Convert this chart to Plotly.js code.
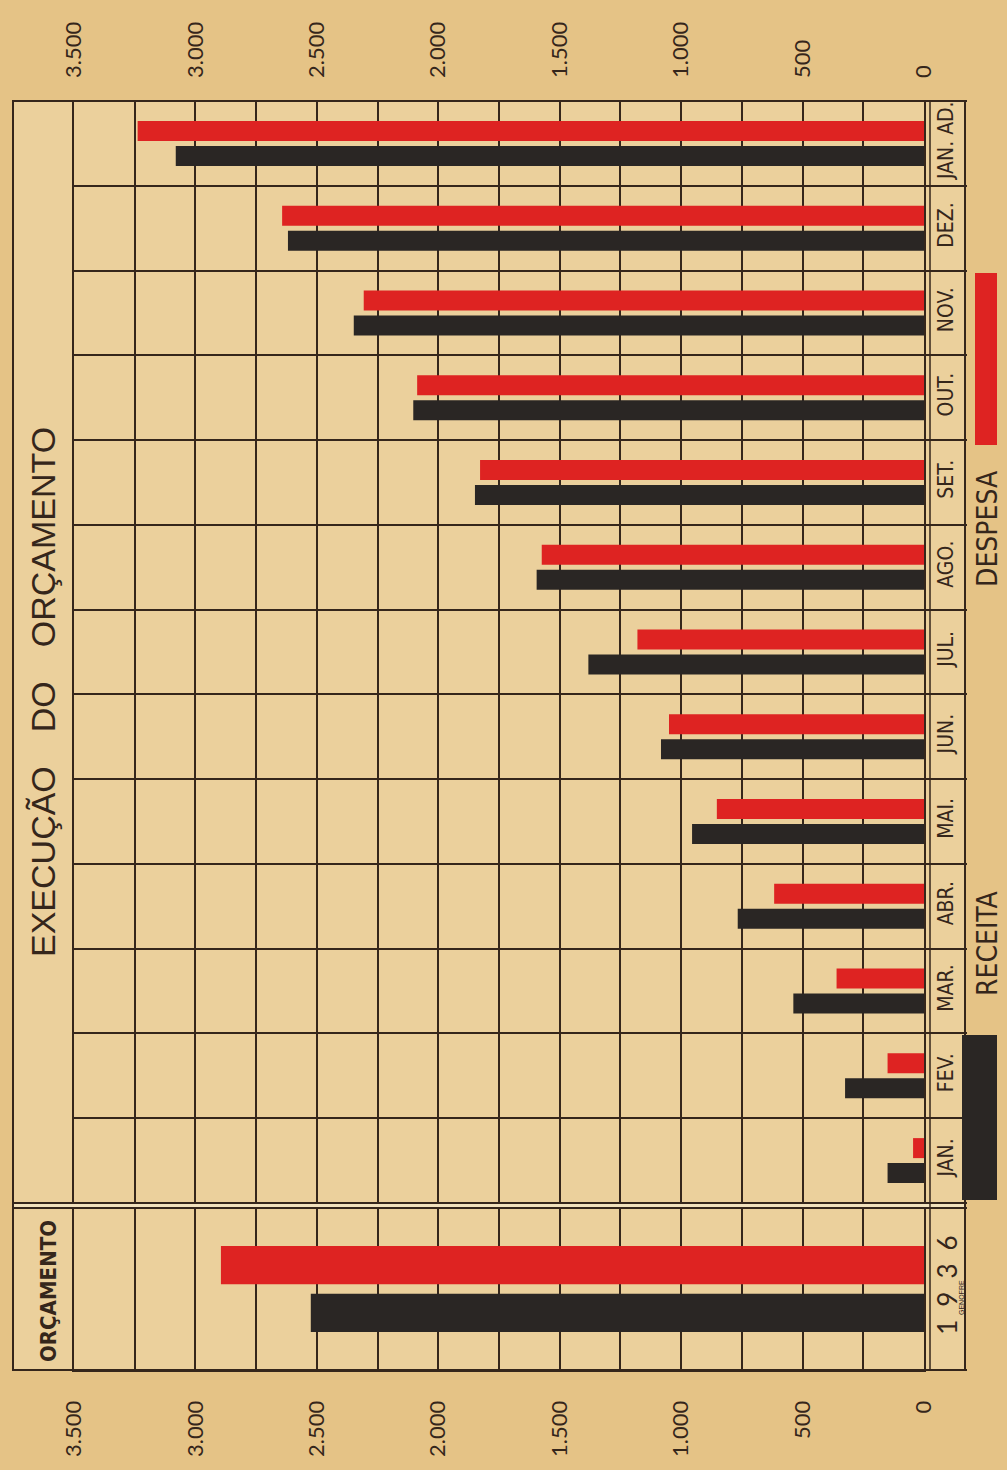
<!DOCTYPE html>
<html>
<head>
<meta charset="utf-8">
<script src="https://cdn.plot.ly/plotly-3.0.1.min.js"></script>
<style>
  html, body { margin: 0; padding: 0; background: #e5c386; }
  #chart { width: 1007px; height: 1470px; }
</style>
</head>
<body>
<div id="chart"></div>
<script>
// ---- data ----
const months = ['JAN.', 'FEV.', 'MAR.', 'ABR.', 'MAI.', 'JUN.', 'JUL.', 'AGO.', 'SET.', 'OUT.', 'NOV.', 'DEZ.', 'JAN. AD.'];
const receita = [150, 325, 538, 767, 955, 1083, 1382, 1595, 1849, 2103, 2348, 2619, 3081];
const despesa = [45, 150, 360, 617, 853, 1050, 1180, 1574, 1828, 2087, 2307, 2643, 3238];
const budgetYear = ['1\u20029\u20023\u20026'];
const budgetReceita = [2525];
const budgetDespesa = [2895];
const seriesNames = ['RECEITA', 'DESPESA'];
const titleText = 'EXECUÇÃO\u2003DO\u2003ORÇAMENTO';
const budgetTitle = 'ORÇAMENTO';
const signature = 'GENOFRE';

// ---- styles ----
const INK = '#35261b';
const RED = '#de2322';
const BLACK = '#2a2624';
const PAPER = '#e5c386';
const PLOTBG = '#ebd09c';
const LABELFONT = '"Liberation Sans Narrow", "DejaVu Sans Condensed", "Liberation Sans", sans-serif';
const NUMFONT = 'Lato, "Liberation Sans", sans-serif';
const GW = 2;

// pixel -> paper helpers (plot area: x 74..924, y 101..1370)
const L = 74, R = 83, T = 101, B = 100, W = 1007, H = 1470;
const PW = W - L - R, PH = H - T - B;
const px = v => (v - L) / PW;
const py = v => (H - B - v) / PH;

const upperDomain = [py(1203), 1];
const lowerDomain = [0, py(1208)];

const traces = [
  { type: 'bar', orientation: 'h', name: seriesNames[0], y: months, x: receita,
    xaxis: 'x', yaxis: 'y', marker: { color: BLACK }, hoverinfo: 'x+y' },
  { type: 'bar', orientation: 'h', name: seriesNames[1], y: months, x: despesa,
    xaxis: 'x', yaxis: 'y', marker: { color: RED }, hoverinfo: 'x+y' },
  { type: 'bar', orientation: 'h', name: seriesNames[0], y: budgetYear, x: budgetReceita,
    xaxis: 'x', yaxis: 'y2', marker: { color: BLACK }, showlegend: false, hoverinfo: 'x+y' },
  { type: 'bar', orientation: 'h', name: seriesNames[1], y: budgetYear, x: budgetDespesa,
    xaxis: 'x', yaxis: 'y2', marker: { color: RED }, showlegend: false, hoverinfo: 'x+y' },
  // invisible carrier so the top value axis is drawn
  { type: 'scatter', mode: 'markers', x: receita, y: months, xaxis: 'x2', yaxis: 'y',
    marker: { opacity: 0 }, showlegend: false, hoverinfo: 'skip' }
];

const valueAxisCommon = {
  range: [3500, 0],
  autorange: false,
  tick0: 0, dtick: 500,
  tickformat: ',d',
  tickangle: -90,
  ticks: '',
  tickfont: { family: NUMFONT, size: 22, color: INK },
  zeroline: false,
  fixedrange: true
};

const layout = {
  width: W, height: H,
  margin: { l: L, r: R, t: T, b: B, pad: 0 },
  paper_bgcolor: PAPER,
  plot_bgcolor: PLOTBG,
  separators: ',.',
  showlegend: false,
  barmode: 'group',
  bargap: 0.41,
  bargroupgap: 0.2,
  xaxis: Object.assign({}, valueAxisCommon, {
    anchor: 'y2', side: 'bottom', domain: [0, 1],
    showgrid: true, gridcolor: INK, gridwidth: GW,
    minor: { dtick: 250, tick0: 0, showgrid: true, gridcolor: INK, gridwidth: GW, ticks: '' },
    showline: true, linecolor: INK, linewidth: GW, mirror: true,
    ticklabelstandoff: 20
  }),
  xaxis2: Object.assign({}, valueAxisCommon, {
    anchor: 'y', side: 'top', overlaying: 'x', domain: [0, 1],
    showgrid: false, showline: false,
    ticklabelstandoff: 22
  }),
  yaxis: {
    domain: upperDomain, anchor: 'x', side: 'right',
    type: 'category', categoryorder: 'array', categoryarray: months,
    range: [-0.5, months.length - 0.5], autorange: false,
    tickson: 'boundaries', ticks: 'outside', ticklen: 41, tickwidth: GW, tickcolor: INK,
    showgrid: true, gridcolor: INK, gridwidth: GW,
    showline: true, linecolor: INK, linewidth: GW, mirror: true,
    tickangle: -90,
    tickfont: { family: LABELFONT, size: 21, color: INK },
    ticklabelstandoff: 2,
    fixedrange: true
  },
  yaxis2: {
    domain: lowerDomain, anchor: 'x', side: 'right',
    type: 'category',
    range: [-0.5, budgetYear.length - 0.5], autorange: false,
    tickson: 'boundaries', ticks: 'outside', ticklen: 41, tickwidth: GW, tickcolor: INK,
    showgrid: false,
    showline: true, linecolor: INK, linewidth: GW, mirror: true,
    tickangle: -90,
    tickfont: { family: NUMFONT, size: 26, color: INK },
    ticklabelstandoff: 0,
    fixedrange: true
  },
  shapes: [
    // outer frame fill
    { type: 'rect', xref: 'paper', yref: 'paper', x0: px(13), x1: px(965), y0: 0, y1: 1,
      fillcolor: PLOTBG, line: { color: INK, width: GW }, layer: 'below' },
    // separator band between the two sections
    { type: 'rect', xref: 'paper', yref: 'paper', x0: px(13), x1: px(965), y0: lowerDomain[1], y1: upperDomain[0],
      fillcolor: '#f2e2bd', line: { color: INK, width: GW }, layer: 'above' },
    // double line beside the month labels
    { type: 'line', xref: 'paper', yref: 'paper', x0: px(930), x1: px(930), y0: 0, y1: 1,
      line: { color: INK, width: 1.5 } },
    // outer border on top
    { type: 'rect', xref: 'paper', yref: 'paper', x0: px(13), x1: px(965), y0: 0, y1: 1,
      fillcolor: 'rgba(0,0,0,0)', line: { color: INK, width: GW }, layer: 'above' },
    // legend swatches
    { type: 'rect', xref: 'paper', yref: 'paper', x0: px(975), x1: px(997), y0: py(445), y1: py(273),
      fillcolor: RED, line: { width: 0 } },
    { type: 'rect', xref: 'paper', yref: 'paper', x0: px(962), x1: px(997), y0: py(1200), y1: py(1035),
      fillcolor: BLACK, line: { width: 0 } }
  ],
  annotations: [
    { text: titleText, xref: 'paper', yref: 'paper', x: px(43), y: py(692),
      textangle: -90, showarrow: false, xanchor: 'center', yanchor: 'middle',
      font: { family: '"Liberation Sans", sans-serif', size: 34, color: INK } },
    { text: '<b>' + budgetTitle + '</b>', xref: 'paper', yref: 'paper', x: px(48), y: py(1291),
      textangle: -90, showarrow: false, xanchor: 'center', yanchor: 'middle',
      font: { family: LABELFONT, size: 22, color: INK } },
    { text: seriesNames[0], xref: 'paper', yref: 'paper', x: px(987), y: py(943),
      textangle: -90, showarrow: false, xanchor: 'center', yanchor: 'middle',
      font: { family: LABELFONT, size: 28, color: INK } },
    { text: seriesNames[1], xref: 'paper', yref: 'paper', x: px(987), y: py(529),
      textangle: -90, showarrow: false, xanchor: 'center', yanchor: 'middle',
      font: { family: LABELFONT, size: 28, color: INK } },
    { text: signature, xref: 'paper', yref: 'paper', x: px(961), y: py(1298),
      textangle: -90, showarrow: false, xanchor: 'center', yanchor: 'middle',
      font: { family: '"Liberation Sans", sans-serif', size: 7, color: INK } }
  ]
};

Plotly.newPlot('chart', traces, layout, { staticPlot: true, displayModeBar: false });
</script>
</body>
</html>
